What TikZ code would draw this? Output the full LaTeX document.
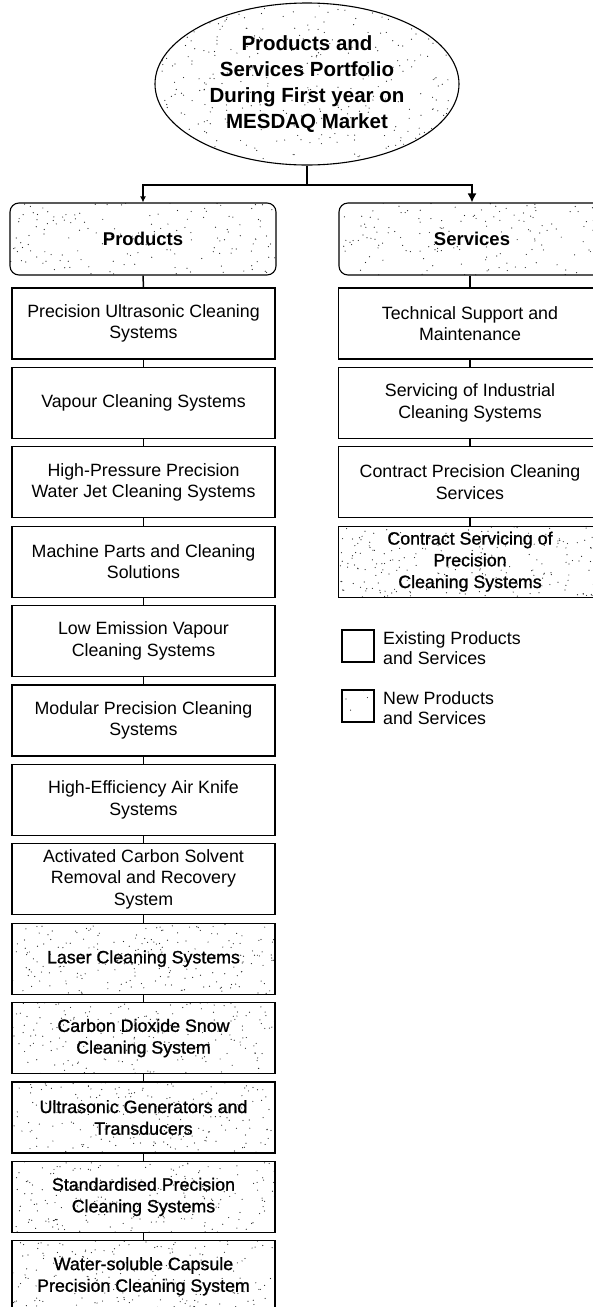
\documentclass[tikz,border=0pt]{standalone}
\usepackage{fontspec}
\setmainfont{Liberation Sans}
\newfontfamily\heavyfont[FakeBold=1.2]{Liberation Sans}
\usetikzlibrary{arrows.meta,calc,shapes.geometric}
\begin{document}
\pgfmathsetseed{4242}
\tikzset{
  stipple/.style={path picture={
    \foreach \k in {1,...,#1}{
      \fill[black!85] let \p1=(path picture bounding box.south west),
                \p2=(path picture bounding box.north east) in
        ({\x1+rnd*(\x2-\x1)},{\y1+rnd*(\y2-\y1)}) circle (0.6pt);
    }}},
  stipple/.default=210,
  txt/.style={font=\fontsize{17.8}{21.7}\selectfont},
  box/.style={draw, line width=1.1pt, minimum width=263pt, minimum height=71pt,
    align=center, inner sep=2pt, txt},
  newbox/.style={box, stipple, font=\heavyfont\fontsize{17.8}{21.7}\selectfont},
  hdr/.style={draw, rounded corners=9pt, line width=1.1pt, minimum width=266pt,
    minimum height=72pt, stipple=150, font=\bfseries\fontsize{18.5}{22}\selectfont},
  title/.style={ellipse, draw, line width=1.1pt, minimum width=304pt, minimum height=162pt,
    inner sep=0pt, align=center, stipple=380, font=\bfseries\fontsize{20.5}{26}\selectfont},
  link/.style={line width=1.5pt},
  legbox/.style={draw, line width=1.1pt, minimum width=32pt, minimum height=32pt, inner sep=0pt},
  legtxt/.style={anchor=west, align=left, inner sep=0pt, font=\fontsize{17.8}{20.7}\selectfont},
}
\begin{tikzpicture}[x=1pt,y=-1pt]
\useasboundingbox (0,0) rectangle (593,1307);

\node[title] (top) at (307,84) {Products and\\Services Portfolio\\During First year on\\MESDAQ Market};
\coordinate (j) at (307,185);

\node[hdr] (ph) at (143,239) {Products};
\node[hdr] (sh) at (472,239) {Services};

\draw[link] (top.south) -- (j);
\draw[link,-{Latex[length=6pt,width=6pt]}] (j) -| (ph.north);
\draw[link,-{Latex[length=9pt,width=9pt]}] (j) -| (sh.north);

% products
\node[box] (p1) at (143.5,323.5) {Precision Ultrasonic Cleaning\\Systems};
\node[box] (p2) at (143.5,402.9) {Vapour Cleaning Systems};
\node[box] (p3) at (143.5,482.3) {High-Pressure Precision\\Water Jet Cleaning Systems};
\node[box] (p4) at (143.5,561.7) {Machine Parts and Cleaning\\Solutions};
\node[box] (p5) at (143.5,641.1) {Low Emission Vapour\\Cleaning Systems};
\node[box] (p6) at (143.5,720.5) {Modular Precision Cleaning\\Systems};
\node[box] (p7) at (143.5,799.9) {High-Efficiency Air Knife\\Systems};
\node[box] (p8) at (143.5,879.3) {Activated Carbon Solvent\\Removal and Recovery\\System};
\node[newbox] (p9) at (143.5,958.7) {Laser Cleaning Systems};
\node[newbox] (p10) at (143.5,1038.1) {Carbon Dioxide Snow\\Cleaning System};
\node[newbox] (p11) at (143.5,1117.5) {Ultrasonic Generators and\\Transducers};
\node[newbox] (p12) at (143.5,1196.9) {Standardised Precision\\Cleaning Systems};
\node[newbox] (p13) at (143.5,1276.3) {Water-soluble Capsule\\Precision Cleaning System};

\draw[link] (ph.south) -- (p1.north);
\foreach \a/\b in {p1/p2,p2/p3,p3/p4,p4/p5,p5/p6,p6/p7,p7/p8,p8/p9,p9/p10,p10/p11,p11/p12,p12/p13}
  \draw[link] (\a.south) -- (\b.north);

% services
\node[box] (s1) at (470,323.5) {Technical Support and\\Maintenance};
\node[box] (s2) at (470,402.9) {Servicing of Industrial\\Cleaning Systems};
\node[box] (s3) at (470,482.3) {Contract Precision Cleaning\\Services};
\node[newbox] (s4) at (470,561.7) {Contract Servicing of\\Precision\\Cleaning Systems};

\draw[link] (sh.south -| s1.north) -- (s1.north);
\foreach \a/\b in {s1/s2,s2/s3,s3/s4}
  \draw[link] (\a.south) -- (\b.north);

% legend
\node[legbox] (l1) at (358,646) {};
\node[legtxt] (l1t) at (383,648) {Existing Products\\and Services};
\node[legbox, stipple=4] (l2) at (358,706) {};
\node[legtxt] (l2t) at (383,708) {New Products\\and Services};
\end{tikzpicture}
\end{document}
